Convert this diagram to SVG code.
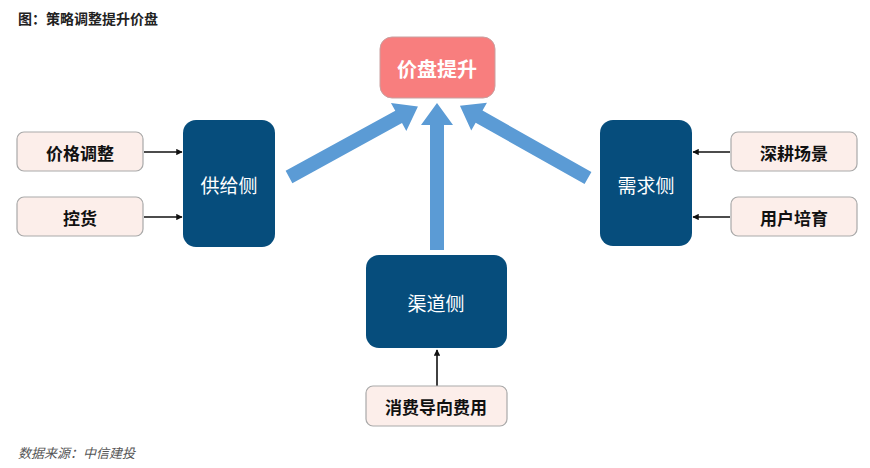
<svg xmlns="http://www.w3.org/2000/svg" width="870" height="468" viewBox="0 0 870 468">
<style>
text{font-family:"Noto Sans CJK SC","Noto Sans",sans-serif;text-anchor:middle;dominant-baseline:central}
.dark{fill:#064d7c}
.lt{fill:#fceeea;stroke:#a9a9a9;stroke-width:1.2}
.lbl{font-size:17px;font-weight:bold;fill:#111}
.wt{font-size:19px;fill:#fff}
.blk{fill:#5b9bd5}
.ln{stroke:#111;stroke-width:1.6;fill:none;marker-end:url(#ah)}
</style>
<defs>
<marker id="ah" viewBox="0 0 10 10" refX="9" refY="5" markerWidth="4" markerHeight="4" orient="auto"><path d="M0,0L10,5L0,10z" fill="#111"/></marker>
<polygon id="ba" points="0,-7 125,-7 125,-16 147,0 125,16 125,7 0,7"/>
</defs>
<text x="18" y="18" style="text-anchor:start;font-size:14px;font-weight:bold;fill:#222">图：策略调整提升价盘</text>
<g id="connectors">
<use href="#ba" class="blk" transform="translate(289,177) rotate(-28.7)"/>
<use href="#ba" class="blk" transform="translate(437,250) rotate(-90)"/>
<use href="#ba" class="blk" transform="translate(588,178) rotate(-150.6)"/>
<line class="ln" x1="144" y1="152" x2="182" y2="152"/>
<line class="ln" x1="144" y1="217" x2="182" y2="217"/>
<line class="ln" x1="730" y1="152" x2="693" y2="152"/>
<line class="ln" x1="730" y1="217" x2="693" y2="217"/>
<line class="ln" x1="437" y1="386" x2="437" y2="350"/>
</g>
<g id="top"><rect x="380" y="37" width="115" height="61" rx="12" fill="#f87e7e" stroke="#c9a0a0"/><text x="437" y="68" style="font-size:20px;font-weight:bold;fill:#fff">价盘提升</text></g>
<g id="supply"><rect class="dark" x="183" y="120" width="92" height="127" rx="13"/><text class="wt" x="229" y="184">供给侧</text></g>
<g id="demand"><rect class="dark" x="600" y="120" width="92" height="126" rx="13"/><text class="wt" x="646" y="184">需求侧</text></g>
<g id="channel"><rect class="dark" x="366" y="255" width="141" height="93" rx="13"/><text class="wt" x="436" y="302">渠道侧</text></g>
<g id="n1"><rect class="lt" x="17" y="132" width="126" height="39" rx="7"/><text class="lbl" x="80" y="152">价格调整</text></g>
<g id="n2"><rect class="lt" x="17" y="197" width="126" height="39" rx="7"/><text class="lbl" x="80" y="217">控货</text></g>
<g id="n3"><rect class="lt" x="731" y="132" width="126" height="39" rx="7"/><text class="lbl" x="794" y="152">深耕场景</text></g>
<g id="n4"><rect class="lt" x="731" y="197" width="126" height="39" rx="7"/><text class="lbl" x="794" y="217">用户培育</text></g>
<g id="n5"><rect class="lt" x="366" y="386" width="141" height="40" rx="7"/><text class="lbl" x="436" y="406">消费导向费用</text></g>
<text x="18" y="452" style="text-anchor:start;font-size:13px;font-style:italic;fill:#555">数据来源：中信建投</text>
</svg>
